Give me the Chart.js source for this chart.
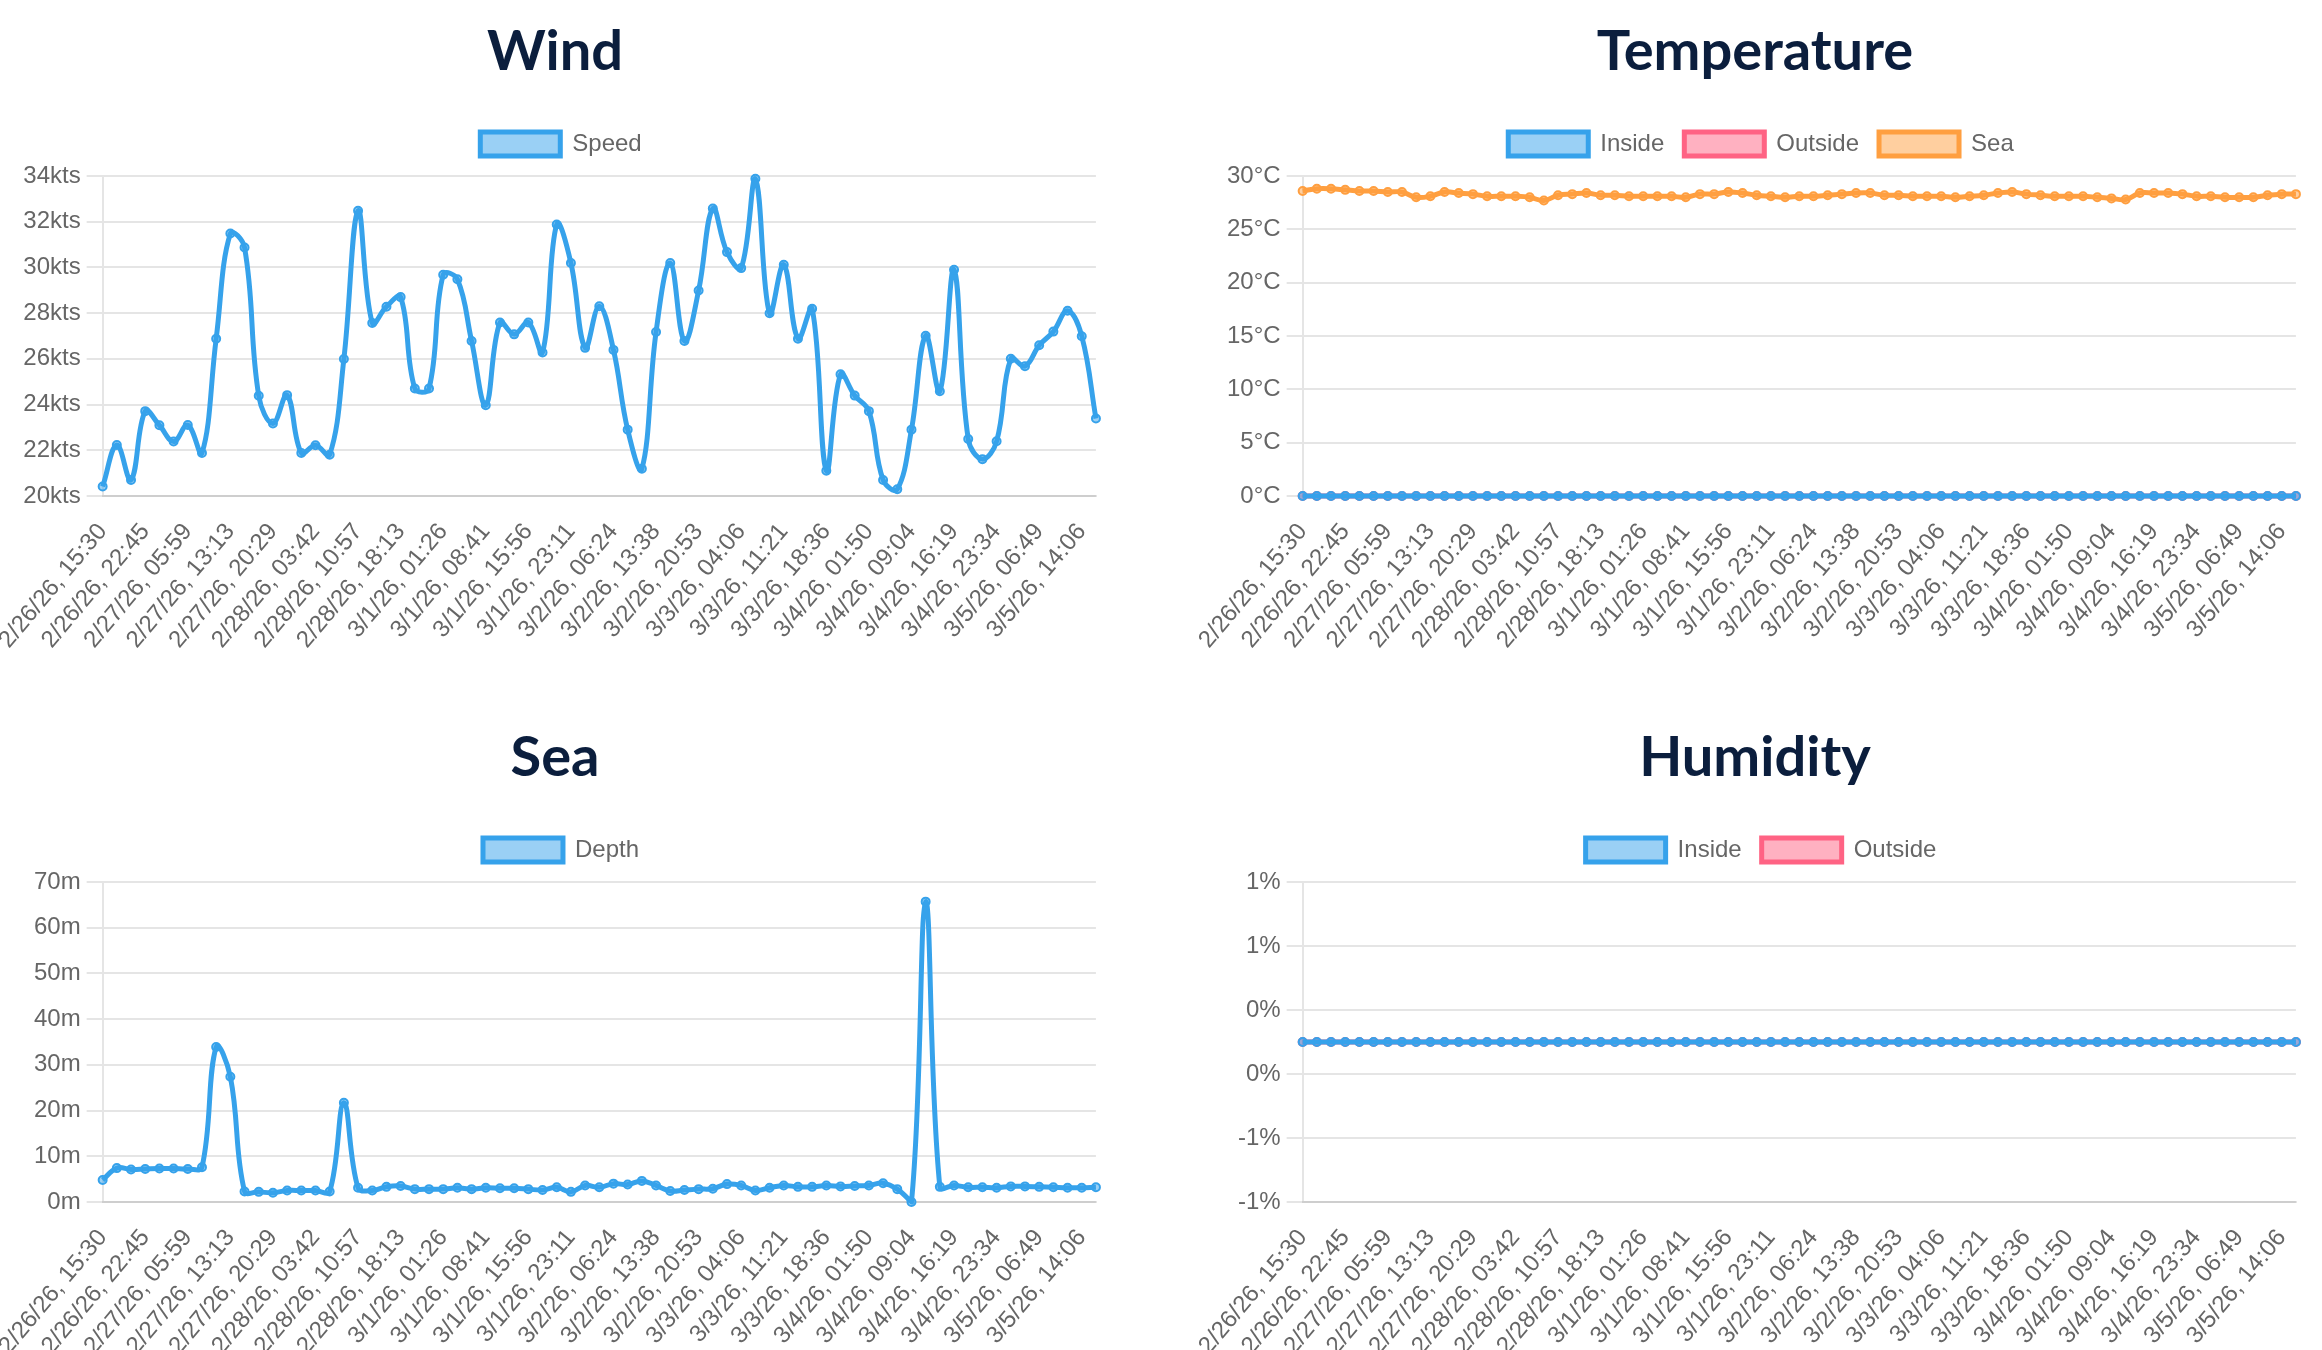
<!DOCTYPE html>
<html>
<head>
<meta charset="utf-8">
<script src="https://cdn.jsdelivr.net/npm/chart.js@4.4.1/dist/chart.umd.min.js"></script>
<style>
html,body{margin:0;padding:0;overflow:hidden;background:#fff;}
body{width:2322px;height:1350px;position:relative;}
#page{position:absolute;left:0;top:0;width:1161px;height:675px;overflow:hidden;transform:scale(2);transform-origin:0 0;}
.cell{position:absolute;width:563px;}
h2{position:relative;left:-3px;font-family:'Lato',sans-serif;font-weight:700;font-size:28px;line-height:49px;margin:0 0 7px;text-align:center;color:#0b1e3d;}
canvas{display:block;}
</style>
</head>
<body>
<div id="page">
<div class="cell" style="left:-1px;top:0"><h2>Wind</h2><canvas id="wind" width="563" height="274"></canvas></div>
<div class="cell" style="left:599px;top:0"><h2>Temperature</h2><canvas id="temp" width="563" height="274"></canvas></div>
<div class="cell" style="left:-1px;top:353px"><h2>Sea</h2><canvas id="sea" width="563" height="274"></canvas></div>
<div class="cell" style="left:599px;top:353px"><h2>Humidity</h2><canvas id="hum" width="563" height="274"></canvas></div>
</div>
<script>
const labels = [
"2/26/26, 15:30","2/26/26, 17:55","2/26/26, 20:20","2/26/26, 22:45","2/27/26, 01:10","2/27/26, 03:34",
"2/27/26, 05:59","2/27/26, 08:24","2/27/26, 10:48","2/27/26, 13:13","2/27/26, 15:38","2/27/26, 18:04",
"2/27/26, 20:29","2/27/26, 22:53","2/28/26, 01:18","2/28/26, 03:42","2/28/26, 06:07","2/28/26, 08:32",
"2/28/26, 10:57","2/28/26, 13:22","2/28/26, 15:48","2/28/26, 18:13","2/28/26, 20:37","2/28/26, 23:02",
"3/1/26, 01:26","3/1/26, 03:51","3/1/26, 06:16","3/1/26, 08:41","3/1/26, 11:06","3/1/26, 13:31",
"3/1/26, 15:56","3/1/26, 18:21","3/1/26, 20:46","3/1/26, 23:11","3/2/26, 01:35","3/2/26, 04:00",
"3/2/26, 06:24","3/2/26, 08:49","3/2/26, 11:13","3/2/26, 13:38","3/2/26, 16:03","3/2/26, 18:28",
"3/2/26, 20:53","3/2/26, 23:17","3/3/26, 01:42","3/3/26, 04:06","3/3/26, 06:31","3/3/26, 08:56",
"3/3/26, 11:21","3/3/26, 13:46","3/3/26, 16:11","3/3/26, 18:36","3/3/26, 21:00","3/3/26, 23:25",
"3/4/26, 01:50","3/4/26, 04:14","3/4/26, 06:39","3/4/26, 09:04","3/4/26, 11:29","3/4/26, 13:54",
"3/4/26, 16:19","3/4/26, 18:44","3/4/26, 21:09","3/4/26, 23:34","3/5/26, 01:59","3/5/26, 04:24",
"3/5/26, 06:49","3/5/26, 09:15","3/5/26, 11:40","3/5/26, 14:06","3/5/26, 16:31"
];

const windSpeed = [
20.41,22.23,20.70,23.71,23.09,22.38,23.10,21.88,26.88,31.48,30.87,24.38,
23.17,24.41,21.88,22.22,21.80,25.99,32.48,27.57,28.28,28.70,24.70,24.70,
29.68,29.48,26.78,23.97,27.59,27.07,27.59,26.28,31.88,30.19,26.48,28.30,
26.39,22.90,21.19,27.17,30.19,26.78,28.99,32.58,30.67,29.97,33.88,27.99,
30.12,26.88,28.19,21.10,25.32,24.39,23.71,20.70,20.29,22.90,27.01,24.58,
29.90,22.49,21.61,22.39,26.00,25.68,26.59,27.19,28.10,26.99,23.39
];

const seaDepth = [
4.8,7.4,7.1,7.2,7.3,7.3,7.2,7.6,33.9,27.4,2.3,2.2,
2.0,2.5,2.5,2.5,2.3,21.7,3.1,2.5,3.3,3.5,2.8,2.8,
2.8,3.1,2.8,3.1,3.0,3.0,2.8,2.6,3.2,2.2,3.6,3.2,
4.0,3.8,4.6,3.6,2.4,2.6,2.8,2.9,3.9,3.6,2.5,3.1,
3.6,3.3,3.3,3.6,3.4,3.5,3.6,4.1,2.8,0,65.7,3.3,
3.6,3.2,3.2,3.1,3.4,3.4,3.3,3.2,3.1,3.1,3.2
];

const tempInside = [
0,0,0,0,0,0,0,0,0,0,0,0,0,0,0,0,0,0,0,0,0,0,0,0,
0,0,0,0,0,0,0,0,0,0,0,0,0,0,0,0,0,0,0,0,0,0,0,0,
0,0,0,0,0,0,0,0,0,0,0,0,0,0,0,0,0,0,0,0,0,0,0
];
const tempOutside = [
0,0,0,0,0,0,0,0,0,0,0,0,0,0,0,0,0,0,0,0,0,0,0,0,
0,0,0,0,0,0,0,0,0,0,0,0,0,0,0,0,0,0,0,0,0,0,0,0,
0,0,0,0,0,0,0,0,0,0,0,0,0,0,0,0,0,0,0,0,0,0,0
];
const tempSea = [
28.6,28.8,28.8,28.7,28.6,28.6,28.5,28.5,28.0,28.1,28.5,28.4,
28.3,28.1,28.1,28.1,28.0,27.7,28.2,28.3,28.4,28.2,28.2,28.1,
28.1,28.1,28.1,28.0,28.3,28.3,28.5,28.4,28.2,28.1,28.0,28.1,
28.1,28.2,28.3,28.4,28.4,28.2,28.2,28.1,28.1,28.1,28.0,28.1,
28.2,28.4,28.5,28.3,28.2,28.1,28.1,28.1,28.0,27.9,27.8,28.4,
28.4,28.4,28.3,28.1,28.1,28.0,28.0,28.0,28.2,28.3,28.3
];

const humInside = [
0,0,0,0,0,0,0,0,0,0,0,0,0,0,0,0,0,0,0,0,0,0,0,0,
0,0,0,0,0,0,0,0,0,0,0,0,0,0,0,0,0,0,0,0,0,0,0,0,
0,0,0,0,0,0,0,0,0,0,0,0,0,0,0,0,0,0,0,0,0,0,0
];
const humOutside = [
0,0,0,0,0,0,0,0,0,0,0,0,0,0,0,0,0,0,0,0,0,0,0,0,
0,0,0,0,0,0,0,0,0,0,0,0,0,0,0,0,0,0,0,0,0,0,0,0,
0,0,0,0,0,0,0,0,0,0,0,0,0,0,0,0,0,0,0,0,0,0,0
];

const BLUE = '#36A2EB', BLUE_BG = 'rgba(54,162,235,0.5)';
const PINK = '#FF6384', PINK_BG = 'rgba(255,99,132,0.5)';
const ORANGE = '#FF9F40', ORANGE_BG = 'rgba(255,159,64,0.5)';

Chart.defaults.font.family = "'Liberation Sans', Arial, Helvetica, sans-serif";
Chart.defaults.color = '#666';

function ds(label, data, border, bg) {
  return { label, data, borderColor: border, backgroundColor: bg,
           borderWidth: 2.5, pointRadius: 2, pointBorderWidth: 1, tension: 0.4 };
}

function makeChart(id, datasets, yCallback, yExtra) {
  new Chart(document.getElementById(id), {
    type: 'line',
    data: { labels: labels, datasets: datasets },
    options: {
      devicePixelRatio: 2,
      responsive: false,
      animation: false,
      plugins: { tooltip: { enabled: false } },
      scales: {
        x: {
          grid: { display: false },
          ticks: { autoSkip: false, maxRotation: 50,
                   callback: (v, i) => (i % 3 === 0 ? labels[i] : '') }
        },
        y: { ticks: Object.assign({ callback: yCallback }, yExtra || {}) }
      }
    }
  });
}

makeChart('wind', [ds('Speed', windSpeed, BLUE, BLUE_BG)], v => v + 'kts');
makeChart('temp', [ds('Inside', tempInside, BLUE, BLUE_BG),
                   ds('Outside', tempOutside, PINK, PINK_BG),
                   ds('Sea', tempSea, ORANGE, ORANGE_BG)], v => v + '°C');
makeChart('sea', [ds('Depth', seaDepth, BLUE, BLUE_BG)], v => v + 'm');
makeChart('hum', [ds('Inside', humInside, BLUE, BLUE_BG),
                  ds('Outside', humOutside, PINK, PINK_BG)], v => Math.round(v) + '%', { count: 6 });
</script>
</body>
</html>
